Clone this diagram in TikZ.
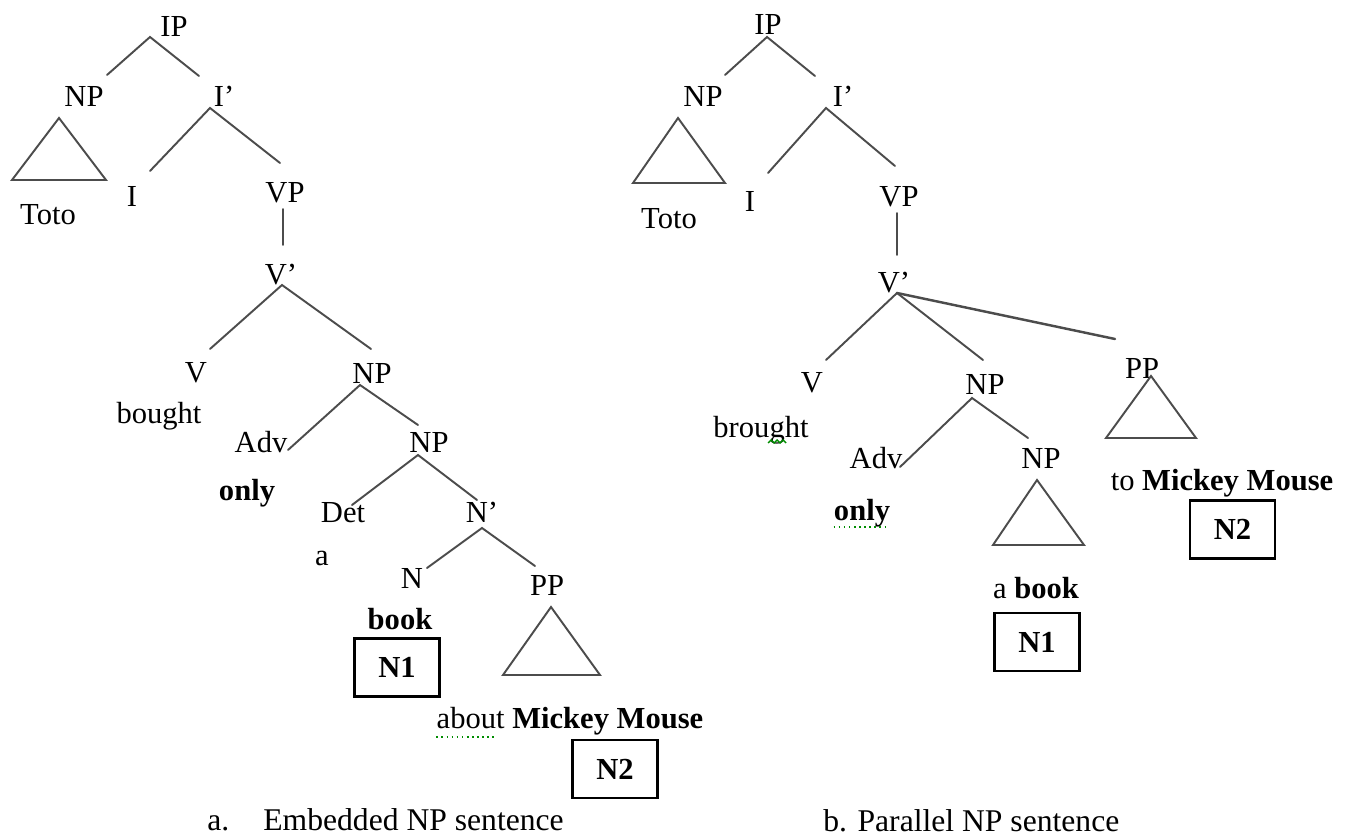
\documentclass[tikz,border=0pt]{standalone}
\usepackage{fontspec}
\setmainfont{Liberation Serif}
\tikzset{
  lbl/.style={anchor=base, inner sep=0pt, font=\fontsize{17.4}{20}\selectfont},
  blbl/.style={lbl, font=\fontsize{17.4}{20}\selectfont\bfseries},
  branch/.style={draw=black!70, line width=1.1pt, line cap=round},
  tagbox/.style={draw=black, line width=1.2pt, inner sep=0pt,
    minimum width=1.7cm, minimum height=1.16cm,
    font=\fontsize{17.4}{20}\selectfont\bfseries},
  caption/.style={anchor=base west, inner sep=0pt, font=\fontsize{18}{22}\selectfont},
  spell/.style={draw=green!55!black, line width=0.9pt, dash pattern=on 0.9pt off 2pt}
}
\begin{document}
\begin{tikzpicture}[x=0.02cm, y=-0.02cm]
\useasboundingbox (0,0) rectangle (1354,837);

% ---------------- (a) embedded NP ----------------
\node[lbl] (aIP)   at (174,37)  {IP};
\node[lbl] (aNP)   at (84,107)  {NP};
\node[lbl] (aIb)   at (224,107) {I’};
\node[lbl] (aToto) at (48,225)  {Toto};
\node[lbl] (aI)    at (132,207) {I};
\node[lbl] (aVP)   at (285,203) {VP};
\node[lbl] (aVb)   at (281,285) {V’};
\node[lbl] (aV)    at (196,382) {V};
\node[lbl] (aVw)   at (159,423) {bought};
\node[lbl] (aNP2)  at (372,383) {NP};
\node[lbl] (aAdv)  at (261,452) {Adv};
\node[blbl] (aAdvw) at (247,500) {only};
\node[lbl] (aNP3)  at (429,452) {NP};
\node[lbl] (aDet)  at (343,522) {Det};
\node[lbl] (aDetw) at (322,565) {a};
\node[lbl] (aNb)   at (482,522) {N’};
\node[lbl] (aN)    at (412,588) {N};
\node[blbl] (aNw)  at (400,629) {book};
\node[lbl] (aPP)   at (547,595) {PP};
\node[lbl] (aPPw)  at (570,728) {about \textbf{Mickey Mouse}};
\node[tagbox] (aN1) at (397,667.5) {N1};
\node[tagbox] (aN2) at (615,769) {N2};

% branch points of tree (a)
\coordinate (aIP-dn)  at (150,37);
\coordinate (aNP-up)  at (107,75);
\coordinate (aNP-dn)  at (59,118);
\coordinate (aIb-up)  at (199,76);
\coordinate (aIb-dn)  at (210,108);
\coordinate (aI-up)   at (150,171);
\coordinate (aVP-up)  at (280,163);
\coordinate (aVP-dn)  at (283,209);
\coordinate (aVb-up)  at (283,245);
\coordinate (aVb-dn)  at (282,285);
\coordinate (aV-up)   at (210,349);
\coordinate (aNP2-up) at (371,349);
\coordinate (aNP2-dn) at (360,385);
\coordinate (aAdv-up) at (288,450);
\coordinate (aNP3-up) at (418,425);
\coordinate (aNP3-dn) at (418,455);
\coordinate (aDet-up) at (352,505);
\coordinate (aNb-up)  at (477,500);
\coordinate (aNb-dn)  at (482,528);
\coordinate (aN-up)   at (427,568);
\coordinate (aPP-up)  at (535,566);
\coordinate (aPP-dn)  at (551,607);

\draw[branch] (aNP-up) -- (aIP-dn) -- (aIb-up);
\draw[branch] (aNP-dn) -- ++(-47,62) -- ++(94,0) -- cycle;
\draw[branch] (aI-up) -- (aIb-dn) -- (aVP-up);
\draw[branch] (aVP-dn) -- (aVb-up);
\draw[branch] (aV-up) -- (aVb-dn) -- (aNP2-up);
\draw[branch] (aAdv-up) -- (aNP2-dn) -- (aNP3-up);
\draw[branch] (aDet-up) -- (aNP3-dn) -- (aNb-up);
\draw[branch] (aN-up) -- (aNb-dn) -- (aPP-up);
\draw[branch] (aPP-dn) -- ++(-48,68) -- ++(97,0) -- cycle;

\draw[spell] ([yshift=-5]aPPw.base west) -- ++(59,0);

% ---------------- (b) parallel NP ----------------
\node[lbl] (bIP)   at (768,35)  {IP};
\node[lbl] (bNP)   at (703,107) {NP};
\node[lbl] (bIb)   at (843,107) {I’};
\node[lbl] (bToto) at (669,229) {Toto};
\node[lbl] (bI)    at (750,212) {I};
\node[lbl] (bVP)   at (899,207) {VP};
\node[lbl] (bVb)   at (894,293) {V’};
\node[lbl] (bV)    at (812,393) {V};
\node[lbl] (bVw)   at (761,437) {brought};
\node[lbl] (bNP2)  at (985,395) {NP};
\node[lbl] (bAdv)  at (876,468) {Adv};
\node[blbl] (bAdvw) at (862,520) {only};
\node[lbl] (bNP3)  at (1041,468) {NP};
\node[lbl] (bNP3w) at (1036,598) {a \textbf{book}};
\node[lbl] (bPP)   at (1142,378) {PP};
\node[lbl] (bPPw)  at (1222,490) {to \textbf{Mickey Mouse}};
\node[tagbox] (bN1) at (1037,642) {N1};
\node[tagbox] (bN2) at (1232.5,529.5) {N2};

% branch points of tree (b)
\coordinate (bIP-dn)  at (767,37);
\coordinate (bNP-up)  at (725,75);
\coordinate (bNP-dn)  at (678,118);
\coordinate (bIb-up)  at (815,76);
\coordinate (bIb-dn)  at (826,108);
\coordinate (bI-up)   at (768,173);
\coordinate (bVP-up)  at (895,166);
\coordinate (bVP-dn)  at (897,213);
\coordinate (bVb-up)  at (897,255);
\coordinate (bVb-dn)  at (897,293);
\coordinate (bV-up)   at (826,360);
\coordinate (bNP2-up) at (983,360);
\coordinate (bPP-up)  at (1115,339);
\coordinate (bNP2-dn) at (972,398);
\coordinate (bAdv-up) at (900,467);
\coordinate (bNP3-up) at (1028,438);
\coordinate (bNP3-dn) at (1037,480);
\coordinate (bPP-dn)  at (1151,376);

\draw[branch] (bNP-up) -- (bIP-dn) -- (bIb-up);
\draw[branch] (bNP-dn) -- ++(-45,65) -- ++(92,0) -- cycle;
\draw[branch] (bI-up) -- (bIb-dn) -- (bVP-up);
\draw[branch] (bVP-dn) -- (bVb-up);
\draw[branch] (bV-up) -- (bVb-dn) -- (bNP2-up);
\draw[branch, line width=1.4pt] (bVb-dn) -- (bPP-up);
\draw[branch] (bAdv-up) -- (bNP2-dn) -- (bNP3-up);
\draw[branch] (bNP3-dn) -- ++(-44,65) -- ++(91,0) -- cycle;
\draw[branch] (bPP-dn) -- ++(-45,62) -- ++(90,0) -- cycle;

\draw[spell] ([yshift=-4]bAdvw.base west) -- ++(52,0);
\draw[draw=green!55!black, line width=0.8pt]
  (768,443) -- (771,440) -- (774,443) -- (777,440) -- (780,443) -- (783,440) -- (786,443);

% ---------------- captions ----------------
\node[caption] (capa1) at (207,830) {a.};
\node[caption] (capa2) at (263,830) {Embedded NP sentence};
\node[caption] (capb)  at (823,831) {b. Parallel NP sentence};
\end{tikzpicture}
\end{document}
